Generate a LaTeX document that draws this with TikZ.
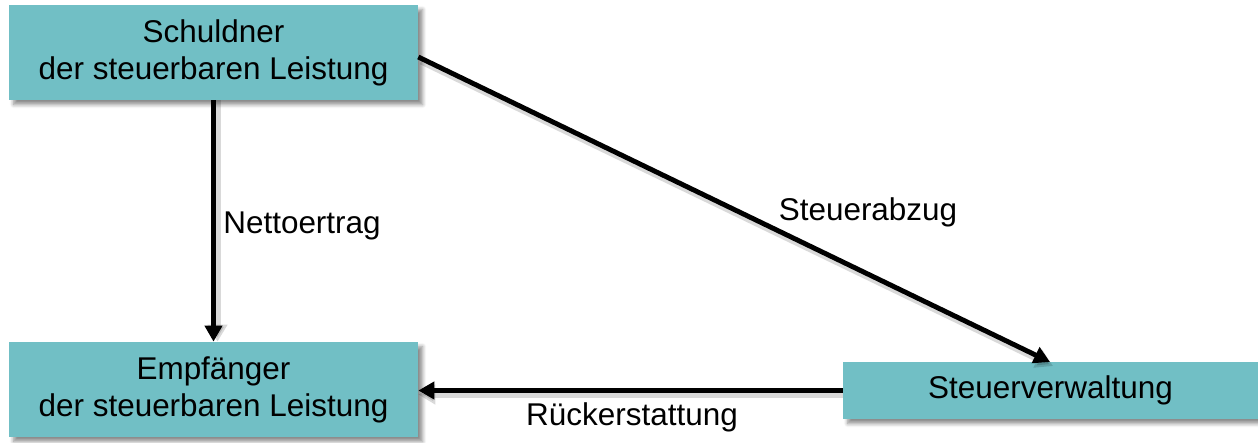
\documentclass[tikz,border=0pt]{standalone}
\usepackage{fontspec}
\setmainfont{Liberation Sans}
\usetikzlibrary{arrows.meta,shadows.blur,calc}
\definecolor{boxfill}{HTML}{71BFC5}
\tikzset{
  box/.style={draw=none, fill=boxfill, align=center, inner sep=0pt,
    font=\fontsize{17.9}{21}\selectfont,
    blur shadow={shadow xshift=2.6pt, shadow yshift=-2.6pt, shadow blur steps=6, shadow opacity=45}},
  flow/.style={line width=2.8pt, -{Triangle[length=0.32cm,width=0.34cm]}},
  flowshadow/.style={line width=4pt, black, opacity=0.15, -{Triangle[length=0.34cm,width=0.38cm]}},
  lbl/.style={font=\fontsize{17.9}{21}\selectfont, inner sep=0pt}
}
\begin{document}
\begin{tikzpicture}[x=0.02cm,y=-0.02cm]
\useasboundingbox (0,0) rectangle (1258,443);
\node[box, minimum width=8.18cm, minimum height=1.9cm] (s) at (213.5,52.5) {Schuldner\\der steuerbaren Leistung};
\node[box, minimum width=8.18cm, minimum height=1.9cm] (e) at (213.5,389.5) {Empfänger\\der steuerbaren Leistung};
\node[box, minimum width=8.3cm, minimum height=1.14cm] (v) at (1050.5,390.5) {Steuerverwaltung};
\coordinate (sd) at ($(s.east)+(0,4.5)$);
\coordinate (vn) at (1050,362);
% arrow shadows
\draw[flowshadow] ($(s.south)+(4,0)$) -- ($(e.north)+(4,0)$);
\draw[flowshadow] ($(sd)+(3,4)$) -- ($(vn)+(3,4)$);
\draw[flowshadow] ($(v.west)+(0,4)$) -- ($(e.east |- v.west)+(0,4)$);
% arrows
\draw[flow] (s.south) -- (e.north);
\draw[flow] (sd) -- (vn);
\draw[flow] (v.west) -- (e.east |- v.west);
\node[lbl] (n1) at (302,226) {Nettoertrag};
\node[lbl] (n2) at (868,212) {Steuerabzug};
\node[lbl] (n3) at (632,417) {Rückerstattung};
\end{tikzpicture}
\end{document}
